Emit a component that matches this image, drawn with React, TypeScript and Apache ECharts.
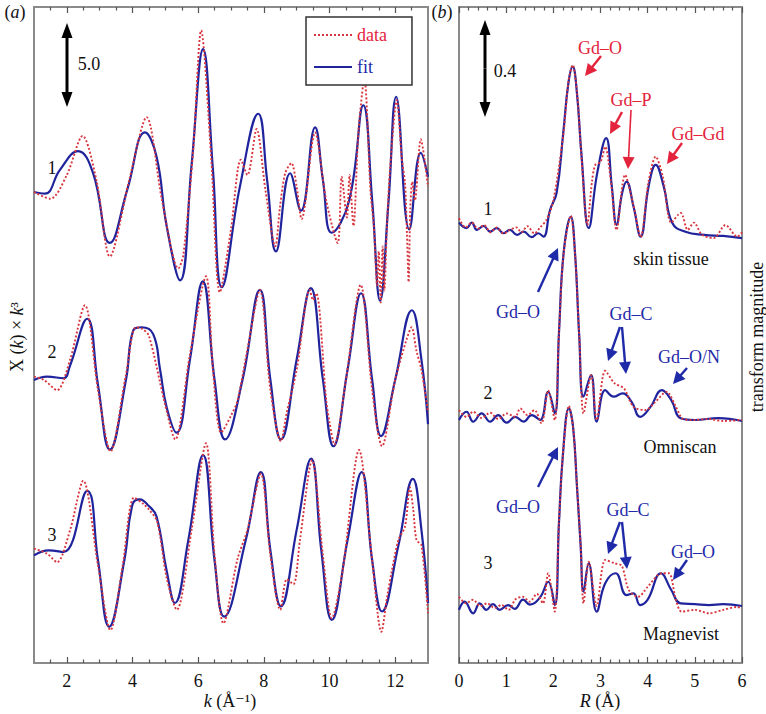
import React, { useEffect, useRef } from "react";
import * as echarts from "echarts";

// ---------- axis ticks / labels ----------
const K_LABELS = [2, 4, 6, 8, 10, 12];
const K_MINOR_TICKS = [1.5, 2.5, 3, 3.5, 4.5, 5, 5.5, 6.5, 7, 7.5, 8.5, 9, 9.5, 10.5, 11, 11.5, 12.5];
const K_RANGE = [1, 13];
const R_RANGE = [0, 6];

// ---------- panel (a): chi(k)*k^3, values relative to each curve's own baseline ----------
const A_OFFSETS = [27.71, 16.65, 6.53];
const A_Y_MAX = 38.59;

const fitA1 = [[1.0,0.0],[1.33,-0.1],[1.79,1.3],[2.34,2.4],[2.8,1.1],[3.31,-3.0],[3.85,0.2],[4.38,3.5],[4.73,2.1],[5.04,-2.0],[5.45,-5.2],[5.8,1.6],[6.15,8.4],[6.45,1.3],[6.72,-5.6],[7.27,0.3],[7.83,4.6],[8.1,0.7],[8.37,-3.5],[8.8,1.1],[9.13,-1.1],[9.56,3.8],[9.8,0.7],[10.07,-2.4],[10.6,-0.5],[11.03,5.1],[11.3,-0.5],[11.54,-6.4],[11.8,-0.5],[12.03,5.6],[12.43,-2.2],[12.78,2.3],[13.0,0.9]];
const dataA1 = [[1.0,0.0],[1.5,-0.4],[2.0,1.0],[2.48,3.3],[2.9,0.7],[3.31,-3.8],[3.9,0.7],[4.43,4.4],[4.9,-0.5],[5.4,-4.5],[5.55,-3.7],[5.85,2.5],[6.09,9.5],[6.4,1.9],[6.66,-5.9],[7.0,-2.2],[7.3,1.9],[7.5,1.0],[7.78,3.7],[8.05,0.1],[8.35,-3.2],[8.49,-0.9],[8.65,1.1],[8.84,1.7],[9.0,0.3],[9.15,-1.6],[9.56,3.5],[9.9,-0.5],[10.25,-3.0],[10.37,0.9],[10.53,-1.5],[10.61,1.0],[10.73,-2.0],[10.88,3.5],[11.06,6.6],[11.25,0.0],[11.35,-2.0],[11.45,-5.5],[11.5,-3.5],[11.56,-6.5],[11.62,-3.2],[11.67,-5.8],[11.75,-2.0],[11.85,1.5],[12.05,5.4],[12.2,2.0],[12.3,0.5],[12.36,-2.5],[12.41,-5.3],[12.46,-1.0],[12.52,0.6],[12.6,-0.5],[12.78,3.1],[13.0,0.3]];

const fitA2 = [[1.0,0.0],[1.4,0.2],[1.9,0.1],[2.09,0.8],[2.62,3.6],[2.95,-0.3],[3.31,-4.1],[3.8,0.0],[4.02,2.9],[4.28,3.1],[4.63,2.7],[4.84,0.6],[5.04,-1.6],[5.34,-3.1],[5.75,1.2],[6.14,5.8],[6.5,0.0],[6.82,-3.5],[7.35,0.0],[7.88,5.3],[8.2,0.0],[8.52,-3.5],[9.0,1.2],[9.43,5.4],[9.8,0.0],[10.12,-3.9],[10.55,0.6],[10.96,5.1],[11.3,0.0],[11.57,-3.3],[12.0,0.0],[12.51,4.1],[12.8,1.2],[13.0,-2.6]];
const dataA2 = [[1.0,0.2],[1.3,0.0],[1.7,-0.6],[2.1,1.2],[2.55,4.4],[2.95,-0.6],[3.33,-4.2],[3.8,0.3],[4.1,3.1],[4.3,3.0],[4.5,2.6],[5.0,-1.5],[5.3,-3.5],[5.75,1.5],[6.24,6.1],[6.45,0.6],[6.7,-3.1],[7.0,-2.1],[7.2,-1.2],[7.5,1.8],[7.88,5.3],[8.2,-0.6],[8.52,-3.6],[8.7,-1.9],[9.0,0.6],[9.4,5.3],[9.5,4.7],[9.6,5.1],[9.9,-1.2],[10.0,-2.5],[10.15,-3.8],[10.5,0.0],[10.95,5.6],[11.3,-0.6],[11.6,-3.9],[12.0,0.0],[12.35,2.4],[12.5,3.1],[12.65,1.7],[12.8,0.6],[13.0,-1.9]];

const fitA3 = [[1.0,-0.2],[1.45,0.1],[1.9,0.0],[2.62,3.6],[2.95,-0.5],[3.29,-4.4],[3.75,-0.5],[4.0,2.8],[4.22,3.1],[4.5,2.7],[4.73,2.1],[5.04,-1.1],[5.29,-3.0],[5.7,0.7],[6.15,5.7],[6.5,-0.5],[6.79,-3.8],[7.45,0.7],[7.91,4.7],[8.2,0.1],[8.52,-3.2],[9.0,1.3],[9.44,5.5],[9.75,0.1],[10.07,-4.0],[10.55,0.7],[10.98,4.7],[11.3,-0.5],[11.6,-3.5],[12.1,0.4],[12.54,4.3],[12.8,1.3],[13.0,-3.0]];
const dataA3 = [[1.0,0.2],[1.4,-0.1],[1.7,-0.6],[2.1,1.3],[2.5,4.2],[2.95,-0.8],[3.33,-4.6],[3.7,-0.8],[4.05,3.2],[4.35,2.8],[4.5,2.5],[4.75,1.8],[5.05,-1.6],[5.35,-3.4],[5.8,1.3],[6.24,6.4],[6.5,-0.2],[6.77,-4.2],[7.2,-0.4],[7.5,1.3],[7.91,4.6],[8.2,-0.2],[8.5,-3.4],[8.7,-1.6],[8.9,-1.9],[9.1,0.7],[9.47,5.4],[9.8,-0.2],[10.07,-3.9],[10.4,-1.1],[10.9,6.0],[11.3,-0.5],[11.58,-4.7],[11.75,-2.7],[11.9,-1.1],[12.1,0.7],[12.3,1.5],[12.45,3.8],[12.55,2.5],[12.65,0.7],[12.8,0.4],[13.0,-3.6]];

// ---------- panel (b): Fourier transform magnitude, relative to each curve's baseline ----------
const B_OFFSETS = [1.786, 1.014, 0.231];
const B_Y_MAX = 2.705;

const fitB1 = [[0.0,0.03],[0.16,0.007],[0.27,0.03],[0.38,0.0],[0.52,0.016],[0.66,-0.007],[0.8,0.007],[0.94,-0.014],[1.08,0.0],[1.23,-0.021],[1.37,-0.007],[1.54,-0.03],[1.68,-0.014],[1.79,-0.028],[1.93,0.082],[2.07,0.153],[2.21,0.4],[2.32,0.606],[2.41,0.673],[2.5,0.565],[2.6,0.301],[2.75,0.007],[2.93,0.234],[3.12,0.378],[3.24,0.179],[3.34,0.021],[3.46,0.153],[3.55,0.199],[3.7,0.096],[3.85,-0.028],[4.02,0.179],[4.17,0.268],[4.34,0.179],[4.52,0.029],[4.8,-0.008],[5.2,-0.021],[5.6,-0.025],[6.0,-0.034]];
const dataB1 = [[0.0,0.048],[0.14,0.01],[0.27,0.03],[0.4,0.005],[0.53,0.02],[0.67,-0.01],[0.8,0.01],[0.95,-0.015],[1.08,0.0],[1.22,0.01],[1.32,-0.01],[1.45,0.015],[1.6,-0.015],[1.72,0.01],[1.85,0.04],[2.0,0.12],[2.21,0.39],[2.32,0.61],[2.41,0.68],[2.5,0.57],[2.6,0.29],[2.72,0.02],[2.82,0.2],[2.89,0.268],[3.0,0.28],[3.1,0.343],[3.22,0.2],[3.34,0.0],[3.52,0.227],[3.7,0.1],[3.85,-0.03],[4.02,0.2],[4.17,0.302],[4.32,0.22],[4.5,0.03],[4.7,0.07],[4.85,0.0],[4.98,0.03],[5.15,-0.02],[5.4,-0.034],[5.65,0.02],[5.9,-0.028],[6.0,-0.01]];

const fitB2 = [[0.0,-0.012],[0.16,0.022],[0.3,-0.019],[0.48,0.015],[0.66,-0.019],[0.83,0.008],[1.01,-0.023],[1.19,0.001],[1.37,-0.019],[1.54,0.008],[1.72,-0.012],[1.89,0.104],[2.03,0.015],[2.12,0.35],[2.22,0.68],[2.37,0.826],[2.46,0.675],[2.55,0.331],[2.64,0.084],[2.8,0.173],[2.92,-0.019],[3.1,0.111],[3.28,0.084],[3.47,0.098],[3.66,0.063],[3.84,0.001],[4.06,0.042],[4.3,0.111],[4.5,0.07],[4.7,-0.005],[5.0,-0.012],[5.5,-0.004],[6.0,-0.016]];
const dataB2 = [[0.0,0.029],[0.16,0.0],[0.3,0.022],[0.48,-0.004],[0.66,0.018],[0.83,-0.008],[1.01,0.015],[1.19,0.001],[1.3,0.036],[1.45,0.008],[1.6,0.029],[1.75,-0.026],[1.89,0.11],[2.03,-0.012],[2.12,0.35],[2.22,0.68],[2.37,0.83],[2.46,0.675],[2.55,0.331],[2.64,0.015],[2.8,0.173],[2.92,-0.012],[3.1,0.191],[3.3,0.139],[3.5,0.118],[3.7,0.042],[3.95,0.029],[4.15,0.06],[4.4,0.104],[4.6,0.042],[4.75,-0.008],[5.0,-0.012],[5.3,-0.008],[5.6,-0.016],[6.0,-0.012]];

const fitB3 = [[0.0,-0.012],[0.12,0.022],[0.3,-0.026],[0.44,0.015],[0.58,-0.012],[0.72,0.012],[0.86,-0.012],[1.04,0.008],[1.18,-0.008],[1.36,0.03],[1.5,0.01],[1.72,0.04],[1.89,0.104],[2.03,0.008],[2.12,0.35],[2.2,0.62],[2.33,0.819],[2.42,0.74],[2.5,0.5],[2.58,0.25],[2.64,0.063],[2.75,0.18],[2.92,-0.019],[3.1,0.098],[3.32,0.139],[3.55,0.049],[3.7,0.056],[3.84,0.008],[4.0,0.03],[4.28,0.139],[4.5,0.07],[4.7,0.015],[5.0,0.012],[5.3,0.008],[5.6,0.012],[6.0,0.004]];
const dataB3 = [[0.0,0.042],[0.15,0.015],[0.3,0.03],[0.45,0.004],[0.6,0.015],[0.75,-0.004],[0.9,0.008],[1.05,-0.012],[1.2,0.032],[1.35,0.042],[1.5,0.022],[1.65,0.054],[1.78,0.015],[1.89,0.139],[2.03,-0.019],[2.12,0.35],[2.2,0.62],[2.33,0.83],[2.42,0.74],[2.5,0.5],[2.58,0.25],[2.64,0.015],[2.75,0.187],[2.92,0.004],[3.1,0.194],[3.3,0.18],[3.45,0.17],[3.6,0.07],[3.8,0.042],[4.0,0.083],[4.3,0.139],[4.45,0.139],[4.6,0.029],[4.72,-0.019],[5.0,-0.012],[5.3,-0.026],[5.6,-0.012],[5.9,0.0],[6.0,-0.006]];

// ---------- styling ----------
const FONT = "Liberation Serif, DejaVu Serif, serif";
const RED_LINE = "#d8363f";
const BLUE_LINE = "#1f239c";
const RED_TEXT = "#e3243c";
const BLUE_TEXT = "#1e2aa8";
const FRAME = "#8a8a8a";
const TICK = "#555";

function shift(arr: number[][], off: number) {
  return arr.map(([x, y]) => [x, +(y + off).toFixed(4)]);
}

function arrow(x1: number, y1: number, x2: number, y2: number, color: string, width = 2.4, head = 12, hw = 6) {
  const dx = x2 - x1, dy = y2 - y1;
  const L = Math.hypot(dx, dy);
  const ux = dx / L, uy = dy / L;
  const bx = x2 - ux * head, by = y2 - uy * head;
  const px = -uy, py = ux;
  return [
    { type: "line", shape: { x1, y1, x2: bx + ux * 1, y2: by + uy * 1 }, style: { stroke: color, lineWidth: width } },
    { type: "polygon", shape: { points: [[x2, y2], [bx + px * hw, by + py * hw], [bx - px * hw, by - py * hw]] }, style: { fill: color } },
  ];
}

function dblArrow(x: number, y1: number, y2: number) {
  return [
    ...arrow(x, (y1 + y2) / 2, x, y1, "#000", 3, 15, 5.5),
    ...arrow(x, (y1 + y2) / 2, x, y2, "#000", 3, 15, 5.5),
  ];
}

function txt(x: number, y: number, text: string, color = "#111", size = 18, extra: any = {}) {
  return {
    type: "text",
    x,
    y,
    silent: true,
    style: { text, fill: color, fontSize: size, fontFamily: FONT, align: "center", verticalAlign: "middle", ...extra },
  };
}

export default function App() {
  const ref = useRef<HTMLDivElement>(null);

  useEffect(() => {
    if (!ref.current) return;
    const chart = echarts.init(ref.current, null, { renderer: "svg" });

    const tickStyle = { color: TICK, width: 1.2 };
    const xA = (position: "bottom" | "top", major: boolean, labels: boolean) => ({
      type: "value",
      gridIndex: 0,
      position,
      min: K_RANGE[0],
      max: K_RANGE[1],
      axisLine: { show: false, onZero: false },
      splitLine: { show: false },
      axisTick: {
        show: true,
        inside: true,
        length: major ? 6 : 3.5,
        lineStyle: tickStyle,
        customValues: major ? K_LABELS : K_MINOR_TICKS,
      },
      axisLabel: labels
        ? { show: true, customValues: K_LABELS, fontFamily: FONT, fontSize: 18, color: "#111", margin: 9 }
        : { show: false },
    });
    const xB = (position: "bottom" | "top", labels: boolean) => ({
      type: "value",
      gridIndex: 1,
      position,
      min: R_RANGE[0],
      max: R_RANGE[1],
      interval: 1,
      axisLine: { show: false, onZero: false },
      splitLine: { show: false },
      axisTick: { show: true, inside: true, length: 6, lineStyle: tickStyle },
      minorTick: { show: true, splitNumber: 5, length: 3.5, lineStyle: tickStyle },
      axisLabel: labels
        ? { show: true, fontFamily: FONT, fontSize: 18, color: "#111", margin: 9 }
        : { show: false },
    });

    const lineSeries = (name: string, data: number[][], xi: number, yi: number, isFit: boolean) => ({
      type: "line",
      name,
      xAxisIndex: xi,
      yAxisIndex: yi,
      data,
      symbol: "none",
      showSymbol: false,
      smooth: isFit ? 0.45 : 0.3,
      color: isFit ? BLUE_LINE : RED_LINE,
      lineStyle: isFit
        ? { color: BLUE_LINE, width: 2.2 }
        : { color: RED_LINE, width: 1.9, type: [2, 2] },
      z: isFit ? 2 : 3,
      silent: true,
    });

    const series = [
      lineSeries("fit", shift(fitA1, A_OFFSETS[0]), 0, 0, true),
      lineSeries("data", shift(dataA1, A_OFFSETS[0]), 0, 0, false),
      lineSeries("fit", shift(fitA2, A_OFFSETS[1]), 0, 0, true),
      lineSeries("data", shift(dataA2, A_OFFSETS[1]), 0, 0, false),
      lineSeries("fit", shift(fitA3, A_OFFSETS[2]), 0, 0, true),
      lineSeries("data", shift(dataA3, A_OFFSETS[2]), 0, 0, false),
      lineSeries("fit", shift(fitB1, B_OFFSETS[0]), 4, 1, true),
      lineSeries("data", shift(dataB1, B_OFFSETS[0]), 4, 1, false),
      lineSeries("fit", shift(fitB2, B_OFFSETS[1]), 4, 1, true),
      lineSeries("data", shift(dataB2, B_OFFSETS[1]), 4, 1, false),
      lineSeries("fit", shift(fitB3, B_OFFSETS[2]), 4, 1, true),
      lineSeries("data", shift(dataB3, B_OFFSETS[2]), 4, 1, false),
    ];

    const italic = { i: { fontStyle: "italic", fontSize: 18, fontFamily: FONT } };
    const graphics: any[] = [
      // panel letters
      txt(15, 12, "({i|a})", "#111", 18, { rich: italic }),
      txt(442, 12, "({i|b})", "#111", 18, { rich: italic }),
      // scale bars
      ...dblArrow(67, 23, 107),
      txt(89, 64, "5.0", "#111", 18),
      ...dblArrow(485, 20, 117),
      txt(505, 71, "0.4", "#111", 18),
      // curve indices
      txt(52, 168, "1"), txt(52, 352, "2"), txt(52, 535, "3"),
      txt(488, 209, "1"), txt(488, 393, "2"), txt(488, 563, "3"),
      // axis titles
      txt(230, 701, "{i|k} (Å⁻¹)", "#111", 18, { rich: italic }),
      txt(600, 701, "{i|R} (Å)", "#111", 18, { rich: italic }),
      { ...txt(17, 337, "X ({i|k}) × {i|k}³", "#111", 18, { rich: italic }), rotation: Math.PI / 2 },
      { ...txt(757, 337, "transform magnitude", "#111", 18), rotation: Math.PI / 2 },
      // red annotations (skin tissue)
      txt(600, 48, "Gd–O", RED_TEXT),
      ...arrow(601, 56, 585, 76, RED_TEXT),
      txt(631, 100, "Gd–P", RED_TEXT),
      ...arrow(622, 112, 610, 134, RED_TEXT),
      ...arrow(631, 110, 628, 169, RED_TEXT, 1.6),
      txt(698, 134, "Gd–Gd", RED_TEXT),
      ...arrow(682, 143, 667, 164, RED_TEXT),
      txt(671, 259, "skin tissue"),
      // blue annotations (Omniscan)
      txt(518, 312, "Gd–O", BLUE_TEXT),
      ...arrow(538, 292, 558, 248, BLUE_TEXT),
      txt(631, 314, "Gd–C", BLUE_TEXT),
      ...arrow(620, 327, 608, 361, BLUE_TEXT),
      ...arrow(622, 327, 626, 374, BLUE_TEXT),
      txt(689, 357, "Gd–O/N", BLUE_TEXT),
      ...arrow(687, 368, 673, 384, BLUE_TEXT),
      txt(680, 447, "Omniscan"),
      // blue annotations (Magnevist)
      txt(518, 507, "Gd–O", BLUE_TEXT),
      ...arrow(538, 487, 558, 447, BLUE_TEXT),
      txt(628, 510, "Gd–C", BLUE_TEXT),
      ...arrow(620, 522, 608, 554, BLUE_TEXT),
      ...arrow(622, 522, 627, 569, BLUE_TEXT),
      txt(693, 552, "Gd–O", BLUE_TEXT),
      ...arrow(687, 560, 673, 580, BLUE_TEXT),
      txt(681, 634, "Magnevist"),
    ];

    chart.setOption({
      animation: false,
      backgroundColor: "#fff",
      textStyle: { fontFamily: FONT },
      grid: [
        { left: 34, top: 7, width: 394, height: 656, show: true, borderColor: FRAME, borderWidth: 2, backgroundColor: "transparent" },
        { left: 459, top: 7, width: 283, height: 656, show: true, borderColor: FRAME, borderWidth: 2, backgroundColor: "transparent" },
      ],
      xAxis: [
        xA("bottom", true, true),
        xA("bottom", false, false),
        xA("top", true, false),
        xA("top", false, false),
        xB("bottom", true),
        xB("top", false),
      ],
      yAxis: [
        { type: "value", gridIndex: 0, min: 0, max: A_Y_MAX, show: false },
        { type: "value", gridIndex: 1, min: 0, max: B_Y_MAX, show: false },
      ],
      legend: {
        left: 306,
        top: 17,
        orient: "vertical",
        selectedMode: false,
        data: [
          { name: "data", textStyle: { color: RED_TEXT } },
          { name: "fit", textStyle: { color: BLUE_TEXT } },
        ],
        itemWidth: 38,
        itemHeight: 14,
        itemGap: 14,
        itemStyle: { opacity: 0 },
        padding: [9, 25, 9, 7],
        borderColor: "#333",
        borderWidth: 1.5,
        backgroundColor: "#fff",
        textStyle: { fontFamily: FONT, fontSize: 18 },
      },
      series,
      graphic: graphics,
    });

    return () => chart.dispose();
  }, []);

  return (
    <div
      ref={ref}
      style={{ position: "fixed", left: 0, top: 0, width: 766, height: 714, background: "#fff" }}
    />
  );
}
